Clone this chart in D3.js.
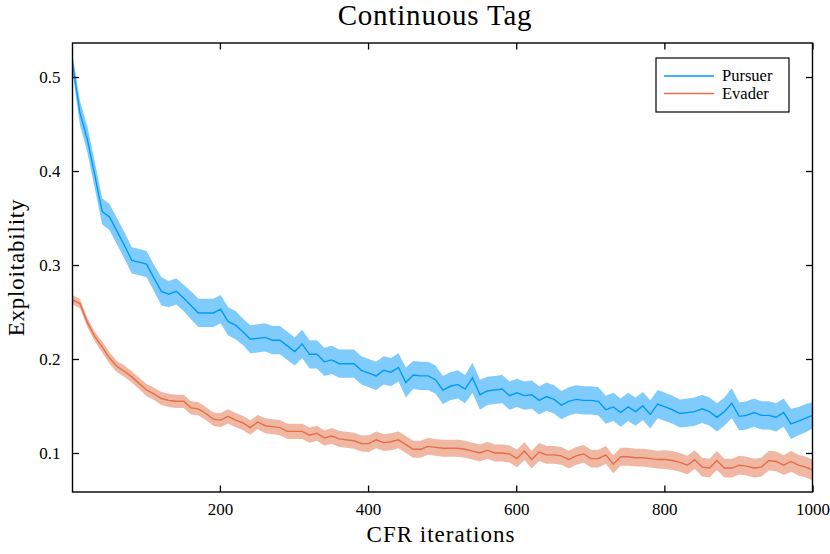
<!DOCTYPE html>
<html>
<head>
<meta charset="utf-8">
<script src="https://cdn.jsdelivr.net/npm/d3@7"></script>
<style>
  html, body { margin: 0; padding: 0; background: #fff; }
  svg text { font-family: "Liberation Serif", "DejaVu Serif", serif; fill: #000; }
</style>
</head>
<body>
<div id="chart"></div>
<script>
// CFR iteration at which each evaluation was taken
const iterations = [1, 11, 21, 31, 41, 51, 61, 71, 81, 91,
  101, 111, 121, 131, 141, 151, 161, 171, 181, 191,
  201, 211, 221, 231, 241, 251, 261, 271, 281, 291,
  301, 311, 321, 331, 341, 351, 361, 371, 381, 391,
  401, 411, 421, 431, 441, 451, 461, 471, 481, 491,
  501, 511, 521, 531, 541, 551, 561, 571, 581, 591,
  601, 611, 621, 631, 641, 651, 661, 671, 681, 691,
  701, 711, 721, 731, 741, 751, 761, 771, 781, 791,
  801, 811, 821, 831, 841, 851, 861, 871, 881, 891,
  901, 911, 921, 931, 941, 951, 961, 971, 981, 991, 1000];

const pursuer = [0.515, 0.462, 0.434, 0.396, 0.357, 0.351, 0.336, 0.321, 0.305, 0.303,
  0.301, 0.286, 0.272, 0.269, 0.272, 0.265, 0.257, 0.249, 0.249, 0.249,
  0.253, 0.240, 0.236, 0.229, 0.221, 0.222, 0.223, 0.220, 0.220, 0.214,
  0.208, 0.216, 0.205, 0.205, 0.197, 0.199, 0.195, 0.195, 0.195, 0.188,
  0.185, 0.182, 0.188, 0.186, 0.191, 0.175, 0.183, 0.182, 0.182, 0.178,
  0.167, 0.171, 0.173, 0.168, 0.180, 0.162, 0.166, 0.167, 0.168, 0.161,
  0.164, 0.161, 0.162, 0.156, 0.160, 0.157, 0.151, 0.155, 0.157, 0.156,
  0.156, 0.155, 0.146, 0.149, 0.143, 0.149, 0.144, 0.150, 0.141, 0.152,
  0.149, 0.146, 0.142, 0.143, 0.144, 0.147, 0.144, 0.138, 0.144, 0.153,
  0.139, 0.140, 0.143, 0.140, 0.140, 0.138, 0.143, 0.131, 0.134, 0.137, 0.140];

const pursuerErr = [0.009, 0.013, 0.014, 0.014, 0.014, 0.014, 0.014, 0.014, 0.014, 0.014,
  0.014, 0.014, 0.015, 0.014, 0.014, 0.014, 0.015, 0.015, 0.015, 0.015,
  0.015, 0.015, 0.015, 0.014, 0.015, 0.015, 0.015, 0.015, 0.015, 0.015,
  0.015, 0.015, 0.015, 0.015, 0.015, 0.015, 0.015, 0.015, 0.015, 0.015,
  0.015, 0.015, 0.015, 0.015, 0.015, 0.016, 0.015, 0.015, 0.015, 0.015,
  0.015, 0.015, 0.015, 0.015, 0.016, 0.016, 0.015, 0.015, 0.015, 0.015,
  0.015, 0.015, 0.015, 0.015, 0.015, 0.015, 0.015, 0.015, 0.015, 0.015,
  0.015, 0.015, 0.015, 0.015, 0.015, 0.015, 0.015, 0.015, 0.015, 0.015,
  0.015, 0.015, 0.015, 0.015, 0.015, 0.015, 0.015, 0.015, 0.015, 0.016,
  0.015, 0.015, 0.015, 0.015, 0.015, 0.015, 0.015, 0.016, 0.015, 0.015, 0.014];

const evader = [0.263, 0.259, 0.239, 0.224, 0.213, 0.201, 0.192, 0.187, 0.181, 0.174,
  0.167, 0.163, 0.158, 0.156, 0.155, 0.155, 0.148, 0.147, 0.142, 0.136,
  0.135, 0.139, 0.135, 0.132, 0.127, 0.133, 0.129, 0.128, 0.127, 0.123,
  0.123, 0.123, 0.119, 0.121, 0.116, 0.118, 0.115, 0.114, 0.113, 0.110,
  0.110, 0.114, 0.111, 0.112, 0.114, 0.109, 0.104, 0.104, 0.107, 0.106,
  0.105, 0.105, 0.105, 0.104, 0.102, 0.100, 0.103, 0.100, 0.100, 0.099,
  0.094, 0.102, 0.093, 0.101, 0.098, 0.098, 0.097, 0.093, 0.097, 0.099,
  0.094, 0.094, 0.098, 0.088, 0.096, 0.096, 0.095, 0.095, 0.094, 0.093,
  0.093, 0.092, 0.090, 0.087, 0.093, 0.085, 0.084, 0.092, 0.084, 0.084,
  0.087, 0.086, 0.084, 0.085, 0.092, 0.091, 0.087, 0.091, 0.087, 0.085, 0.082];

const evaderErr = [0.005, 0.005, 0.005, 0.005, 0.006, 0.006, 0.006, 0.006, 0.006, 0.006,
  0.0065, 0.0065, 0.007, 0.007, 0.007, 0.007, 0.007, 0.007, 0.007, 0.007,
  0.0075, 0.0075, 0.0075, 0.0075, 0.0075, 0.0075, 0.008, 0.008, 0.008, 0.008,
  0.008, 0.008, 0.008, 0.008, 0.008, 0.0085, 0.0085, 0.0085, 0.0085, 0.0085,
  0.009, 0.009, 0.009, 0.009, 0.009, 0.009, 0.009, 0.009, 0.009, 0.009,
  0.009, 0.009, 0.009, 0.009, 0.009, 0.009, 0.009, 0.009, 0.009, 0.009,
  0.0095, 0.0095, 0.0095, 0.0095, 0.0095, 0.0095, 0.0095, 0.0095, 0.0095, 0.0095,
  0.0095, 0.0095, 0.0095, 0.0095, 0.0095, 0.0095, 0.0095, 0.0095, 0.0095, 0.0095,
  0.010, 0.010, 0.010, 0.010, 0.010, 0.010, 0.010, 0.010, 0.010, 0.010,
  0.010, 0.010, 0.010, 0.010, 0.0105, 0.0105, 0.0105, 0.011, 0.011, 0.011, 0.011];

const xTicks = [200, 400, 600, 800, 1000];
const yTicks = [0.1, 0.2, 0.3, 0.4, 0.5];
const seriesNames = ["Pursuer", "Evader"];
const seriesColors = ["#009af9", "#e26f46"];

const W = 830, H = 554;
const margin = { top: 43, right: 17.5, bottom: 62, left: 72.5 };
const width = W - margin.left - margin.right;
const height = H - margin.top - margin.bottom;

const svg = d3.select("#chart")
    .append("svg")
    .attr("width", W)
    .attr("height", H);

const g = svg.append("g")
    .attr("transform", `translate(${margin.left},${margin.top})`);

const x = d3.scaleLinear().domain([1, 1000]).range([0, width]);
const y = d3.scaleLinear().domain([0.0585, 0.5362]).range([height, 0]);

g.append("clipPath").attr("id", "clip")
    .append("rect").attr("width", width).attr("height", height);

const series = [
    { name: seriesNames[0], mean: pursuer, err: pursuerErr, color: seriesColors[0] },
    { name: seriesNames[1], mean: evader, err: evaderErr, color: seriesColors[1] }
];

const area = d3.area()
    .x(d => x(d.it))
    .y0(d => y(d.m - d.e))
    .y1(d => y(d.m + d.e));

const line = d3.line()
    .x(d => x(d.it))
    .y(d => y(d.m));

const plot = g.append("g").attr("clip-path", "url(#clip)");

series.forEach(s => {
    const pts = iterations.map((it, i) => ({ it, m: s.mean[i], e: s.err[i] }));
    plot.append("path")
        .datum(pts)
        .attr("d", area)
        .attr("fill", s.color)
        .attr("fill-opacity", 0.5);
});
series.forEach(s => {
    const pts = iterations.map((it, i) => ({ it, m: s.mean[i], e: s.err[i] }));
    plot.append("path")
        .datum(pts)
        .attr("d", line)
        .attr("fill", "none")
        .attr("stroke", s.color)
        .attr("stroke-width", 1.4);
});

// axes: ticks point inward and are mirrored on all four sides
const tickLen = 6.5;
g.append("g").attr("transform", `translate(0,${height})`)
    .call(d3.axisBottom(x).tickValues(xTicks).tickSizeInner(-tickLen).tickSizeOuter(0).tickPadding(11).tickFormat(d3.format("d")));
g.append("g")
    .call(d3.axisTop(x).tickValues(xTicks).tickSizeInner(-tickLen).tickSizeOuter(0).tickFormat(""));
g.append("g")
    .call(d3.axisLeft(y).tickValues(yTicks).tickSizeInner(-tickLen).tickSizeOuter(0).tickPadding(12).tickFormat(d3.format(".1f")));
g.append("g").attr("transform", `translate(${width},0)`)
    .call(d3.axisRight(y).tickValues(yTicks).tickSizeInner(-tickLen).tickSizeOuter(0).tickFormat(""));

g.selectAll(".domain").remove();
g.selectAll(".tick line").attr("stroke", "#000").attr("stroke-width", 1.3);
g.selectAll(".tick text").style("font-size", "17px").attr("fill", "#000");

g.append("rect")
    .attr("width", width)
    .attr("height", height)
    .attr("fill", "none")
    .attr("stroke", "#000")
    .attr("stroke-width", 1.4);

svg.append("text")
    .attr("x", 435)
    .attr("y", 25)
    .attr("text-anchor", "middle")
    .style("font-size", "29px")
    .style("letter-spacing", "0.8px")
    .text("Continuous Tag");

svg.append("text")
    .attr("x", 441)
    .attr("y", 542)
    .attr("text-anchor", "middle")
    .style("font-size", "23px")
    .style("letter-spacing", "1px")
    .text("CFR iterations");

svg.append("text")
    .attr("transform", `translate(24,${margin.top + height / 2}) rotate(-90)`)
    .attr("text-anchor", "middle")
    .style("font-size", "23px")
    .style("letter-spacing", "0.8px")
    .text("Exploitability");

// legend
const leg = svg.append("g").attr("transform", "translate(656,58)");
leg.append("rect")
    .attr("width", 133)
    .attr("height", 54)
    .attr("fill", "#fff")
    .attr("stroke", "#000")
    .attr("stroke-width", 1.2);
series.forEach((s, i) => {
    const yy = 18 + i * 17.5;
    leg.append("line")
        .attr("x1", 8).attr("x2", 58)
        .attr("y1", yy).attr("y2", yy)
        .attr("stroke", s.color)
        .attr("stroke-width", 1.4);
    leg.append("text")
        .attr("x", 66)
        .attr("y", yy + 5)
        .style("font-size", "16.5px")
        .text(s.name);
});
</script>
</body>
</html>
